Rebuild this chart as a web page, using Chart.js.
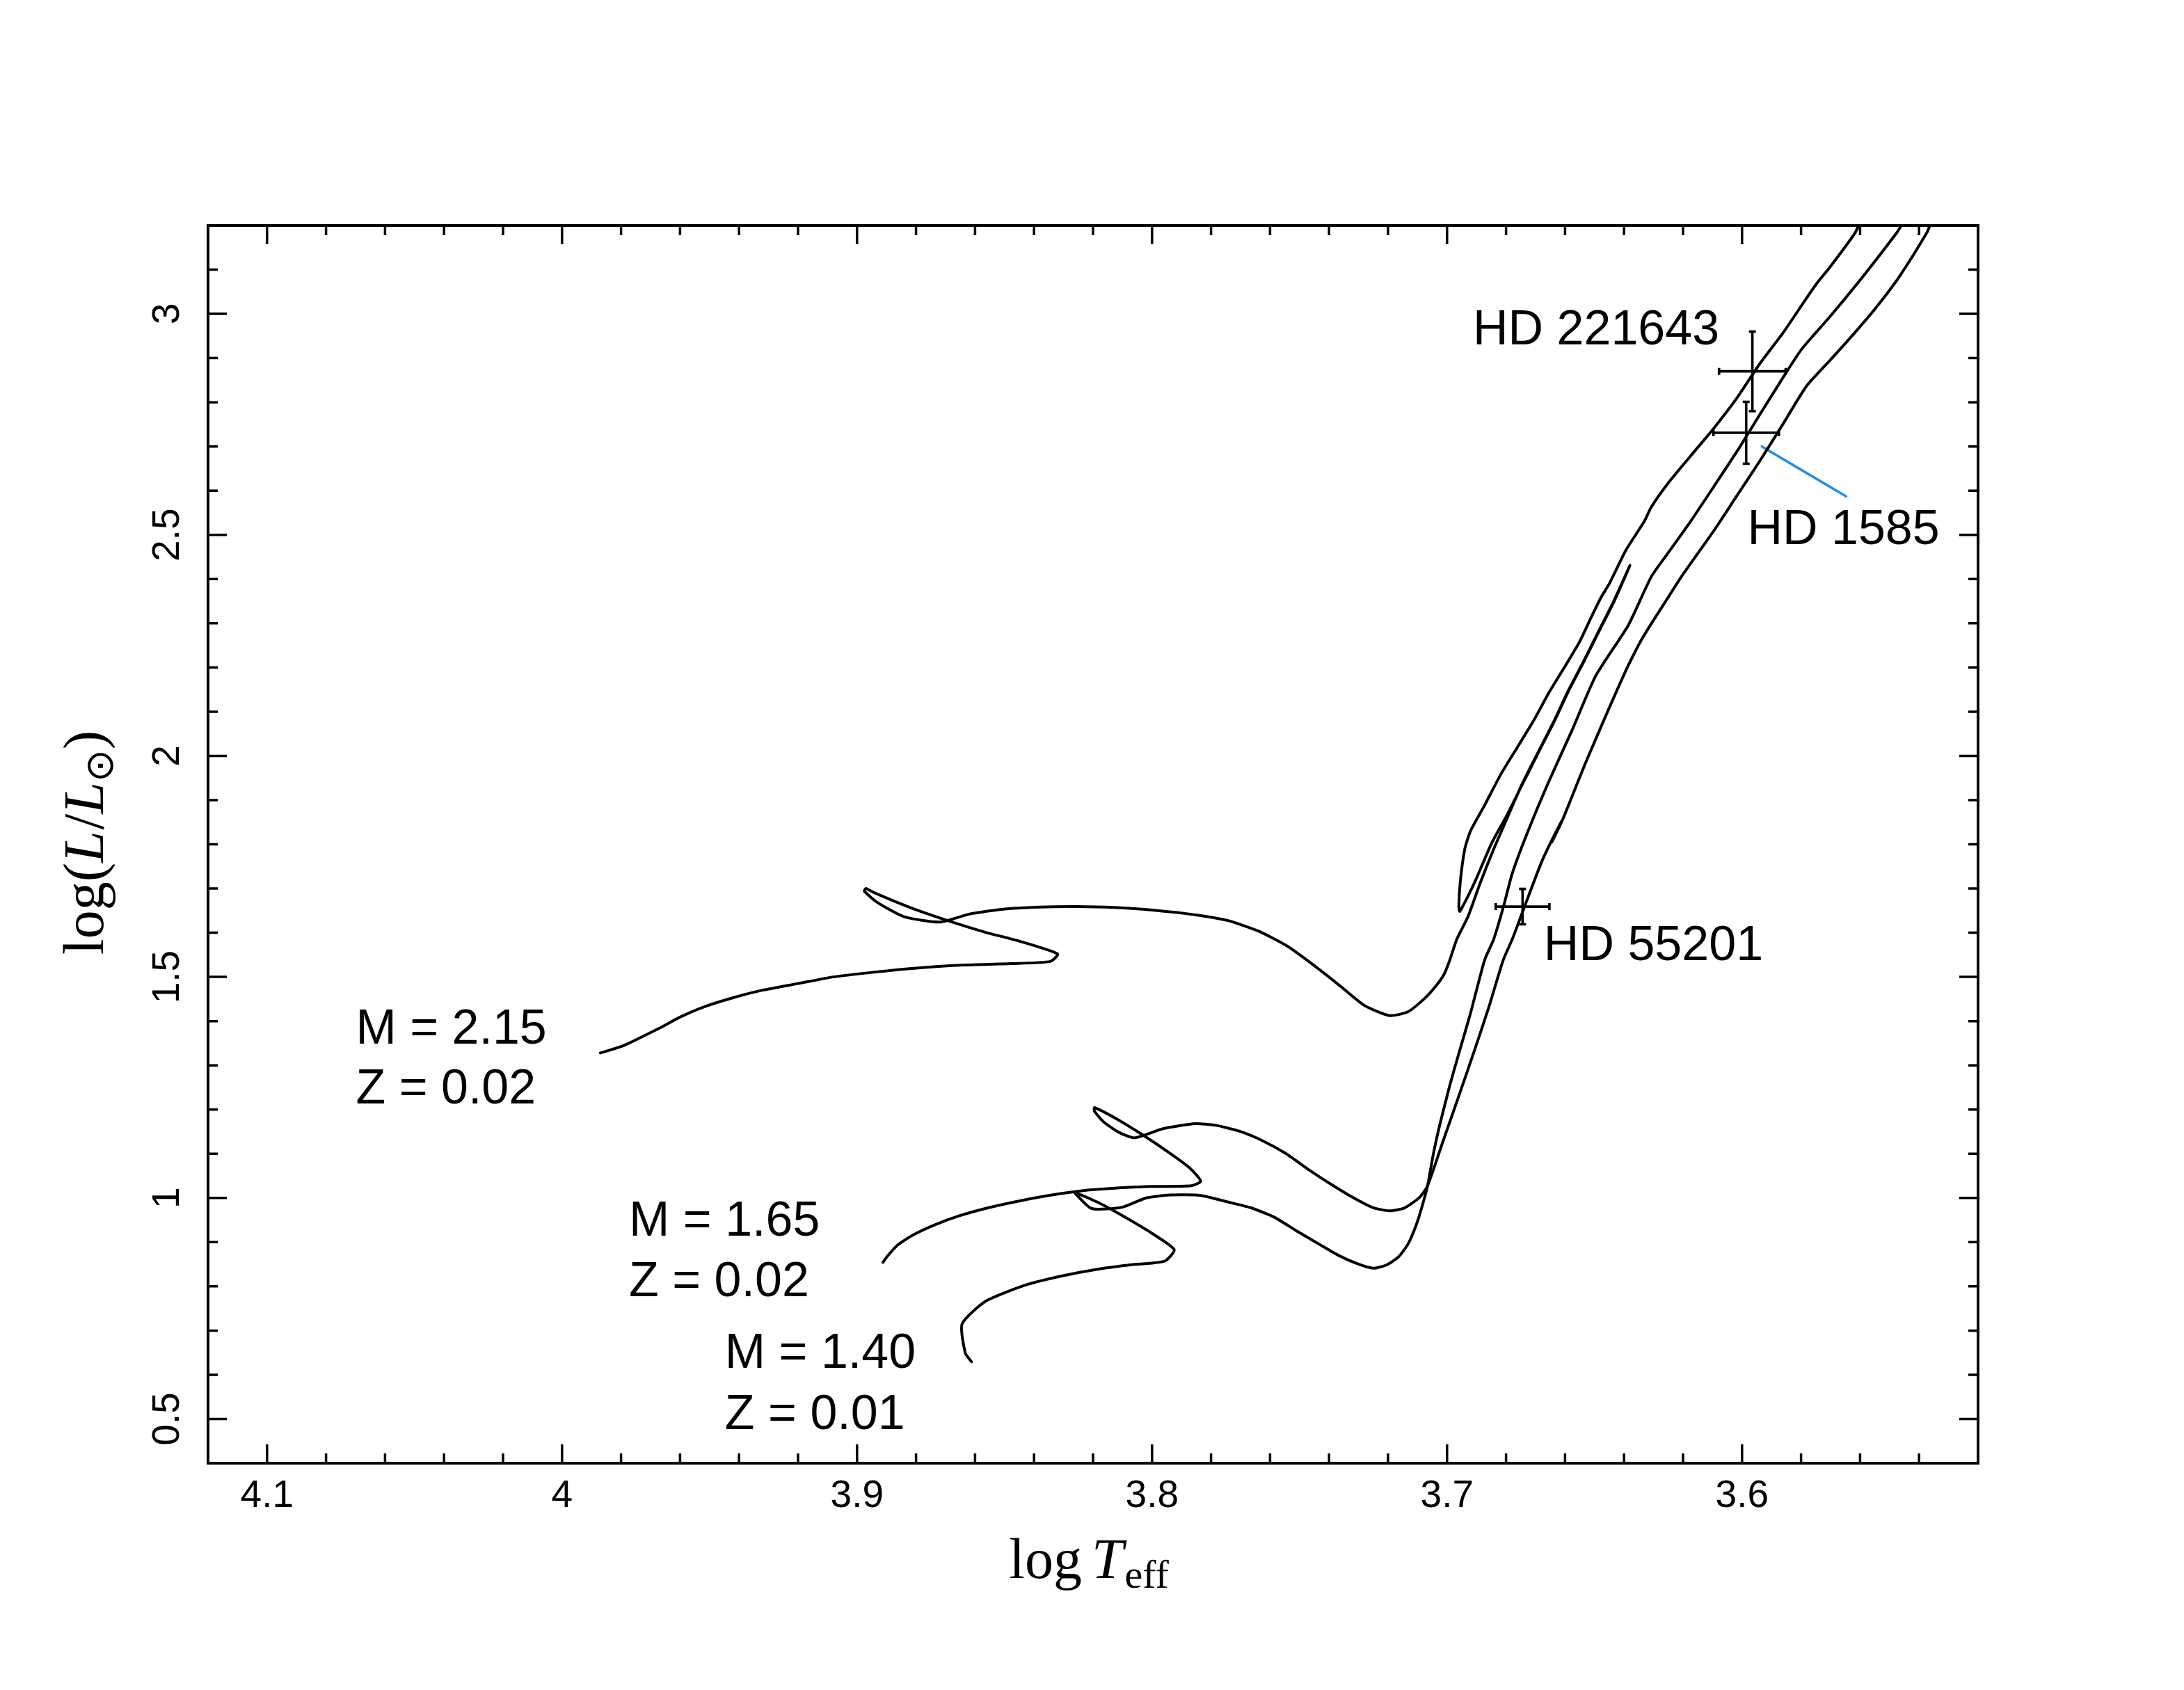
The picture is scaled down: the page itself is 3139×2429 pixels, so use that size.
<!DOCTYPE html>
<html>
<head>
<meta charset="utf-8">
<script src="https://cdn.jsdelivr.net/npm/chart.js@4.4.0/dist/chart.umd.min.js"></script>
<style>
  html, body { margin: 0; padding: 0; background: #fff; }
  #wrap { width: 3139px; height: 2429px; }
</style>
</head>
<body>
<div id="wrap"><canvas id="hr"></canvas></div>
<script>
// evolutionary tracks (log Teff, log L/Lsun)

// M = 2.15, Z = 0.02 : MS, hook, gap, RGB to tip, back down, clump loop, AGB
const m215Teff = [3.987, 3.979, 3.967, 3.960, 3.952, 3.942, 3.932, 3.920, 3.908, 3.894, 3.880, 3.864, 3.848, 3.8345,
  3.832, 3.845, 3.857, 3.870, 3.882, 3.894, 3.897, 3.8975, 3.893, 3.884, 3.872,
  3.862, 3.851, 3.838, 3.8255, 3.813, 3.7994, 3.7847, 3.774, 3.7637, 3.754, 3.7447, 3.7363, 3.7279, 3.7195,
  3.7133, 3.7075, 3.7037, 3.7010, 3.6991, 3.6967, 3.6928, 3.6889, 3.6842, 3.6795, 3.6748, 3.6693, 3.6638,
  3.6591, 3.6544, 3.6490, 3.6435, 3.6380,
  3.6432, 3.6487, 3.6541, 3.6588, 3.6635, 3.6690, 3.6745, 3.6797, 3.6850, 3.6897, 3.6925, 3.6945, 3.6957,
  3.6960, 3.6955, 3.6940, 3.6920, 3.6873, 3.6818, 3.6763, 3.6708, 3.6653, 3.6598, 3.6550, 3.6511, 3.6480,
  3.6448, 3.6394, 3.6331, 3.6308, 3.6253, 3.6175, 3.6096, 3.6018, 3.5939, 3.5861, 3.5782, 3.5743, 3.5704,
  3.5617, 3.5595];
const m215Lum = [1.328, 1.345, 1.384, 1.409, 1.432, 1.453, 1.470, 1.485, 1.500, 1.511, 1.520, 1.527, 1.530, 1.535,
  1.552, 1.581, 1.602, 1.629, 1.657, 1.690, 1.700, 1.694, 1.668, 1.636, 1.624,
  1.642, 1.653, 1.658, 1.659, 1.657, 1.651, 1.640, 1.627, 1.603, 1.569, 1.524, 1.480, 1.435, 1.4125,
  1.421, 1.452, 1.480, 1.506, 1.5375, 1.585, 1.638, 1.710, 1.789, 1.861, 1.933, 2.006, 2.078,
  2.145, 2.205, 2.277, 2.350, 2.431,
  2.352, 2.279, 2.207, 2.147, 2.080, 2.008, 1.935, 1.866, 1.801, 1.728, 1.688, 1.662, 1.648,
  1.660, 1.716, 1.789, 1.831, 1.888, 1.958, 2.018, 2.078, 2.145, 2.205, 2.259, 2.314, 2.356,
  2.392, 2.465, 2.531, 2.5625, 2.615, 2.678, 2.741, 2.809, 2.888, 2.957, 3.035, 3.072, 3.104,
  3.183, 3.215];

// M = 1.65, Z = 0.02
const m165Teff = [3.8912, 3.8898, 3.8862, 3.8808, 3.8736, 3.8655, 3.8556, 3.8448, 3.8340, 3.8223, 3.8088, 3.7998, 3.7867,
  3.7835, 3.7871, 3.7934, 3.8033, 3.8123, 3.8195, 3.8195, 3.8164, 3.8114, 3.8060,
  3.7961, 3.7853, 3.7784, 3.7705, 3.7627, 3.7548, 3.7470, 3.7391, 3.7313, 3.7250, 3.7195, 3.7145,
  3.7093, 3.7066, 3.7014, 3.6959, 3.6905, 3.6858, 3.6810, 3.6779, 3.6739, 3.6677, 3.6612, 3.6645, 3.6608,
  3.6528, 3.6394, 3.6339, 3.6253, 3.6206, 3.6095, 3.6017, 3.5939, 3.5860, 3.5782, 3.5703, 3.5625, 3.5546,
  3.5468, 3.5374, 3.5360];
const m165Lum = [0.8543, 0.8674, 0.8937, 0.917, 0.9394, 0.9593, 0.9777, 0.9935, 1.0066, 1.0172, 1.0235, 1.026, 1.0276,
  1.038, 1.067, 1.0986, 1.1432, 1.180, 1.2043, 1.196, 1.172, 1.149, 1.136,
  1.157, 1.168, 1.1643, 1.1512, 1.130, 1.1012, 1.0645, 1.030, 0.9988, 0.9778, 0.971, 0.977,
  1.0014, 1.0277, 1.1275, 1.2328, 1.3377, 1.4324, 1.5375, 1.585, 1.656, 1.764, 1.852, 1.805, 1.856,
  1.988, 2.193, 2.265, 2.356, 2.405, 2.510, 2.589, 2.668, 2.752, 2.836, 2.894, 2.952, 3.014,
  3.083, 3.183, 3.205];

// M = 1.40, Z = 0.01
const m140Teff = [3.8612, 3.8633, 3.8644, 3.8565, 3.8430, 3.8304, 3.8178, 3.8070, 3.7957,
  3.7925, 3.7998, 3.8088, 3.8178, 3.8263, 3.8259, 3.8205, 3.8101, 3.8020, 3.7939, 3.7835,
  3.7744, 3.7666, 3.7587, 3.7509, 3.7430, 3.7368, 3.7305, 3.7250, 3.7203, 3.7164, 3.7132, 3.7105, 3.7085,
  3.7066, 3.7046, 3.7023, 3.6991, 3.6960, 3.6921, 3.6873, 3.6842, 3.6810, 3.6779, 3.6732, 3.6661, 3.6575,
  3.6496, 3.6386, 3.6308, 3.6253, 3.6174, 3.6095, 3.6017, 3.5939, 3.5860, 3.5798, 3.5703, 3.5586, 3.5476, 3.5455];
const m140Lum = [0.6294, 0.649, 0.7149, 0.766, 0.8027, 0.8237, 0.8396, 0.849, 0.857,
  0.8832, 0.919, 0.9552, 0.9883, 1.013, 1.009, 0.976, 0.979, 1.0, 1.0066, 1.0056,
  0.991, 0.978, 0.957, 0.925, 0.894, 0.870, 0.8516, 0.841, 0.849, 0.867, 0.896, 0.938, 0.980,
  1.0277, 1.101, 1.170, 1.2537, 1.327, 1.4166, 1.5375, 1.585, 1.656, 1.734, 1.819, 1.933, 2.060,
  2.181, 2.295, 2.405, 2.457, 2.531, 2.610, 2.689, 2.773, 2.857, 2.920, 2.993, 3.088, 3.183, 3.205];

// observed stars with error bars
const starNames = ['HD 221643', 'HD 1585', 'HD 55201'];
const starTeff = [3.5965, 3.5986, 3.6744];
const starTeffErr = [0.0113, 0.0111, 0.0091];
const starLum = [2.870, 2.731, 1.659];
const starLumErr = [0.090, 0.070, 0.040];

// blue pointer to HD 1585
const leaderTeff = [3.5933, 3.5647];
const leaderLum = [2.700, 2.587];

// text labels, anchored in data space
const noteText = ['HD 221643', 'HD 1585', 'HD 55201', 'M = 2.15', 'Z = 0.02', 'M = 1.65', 'Z = 0.02', 'M = 1.40', 'Z = 0.01'];
const noteTeff = [3.6077, 3.5982, 3.6672, 4.0699, 4.0699, 3.9773, 3.9773, 3.9448, 3.9448];
const noteLum = [2.9314, 2.4789, 1.5375, 1.3483, 1.2143, 0.9148, 0.7776, 0.6151, 0.4779];
const noteAlign = ['right', 'left', 'left', 'left', 'left', 'left', 'left', 'left', 'left'];

// tick labels
const xTickValues = [4.1, 4.0, 3.9, 3.8, 3.7, 3.6];
const xTickLabels = ['4.1', '4', '3.9', '3.8', '3.7', '3.6'];
const yTickValues = [0.5, 1.0, 1.5, 2.0, 2.5, 3.0];
const yTickLabels = ['0.5', '1', '1.5', '2', '2.5', '3'];

function zip(xs, ys) {
  return xs.map((x, i) => ({ x: x, y: ys[i] }));
}

function track(xs, ys, color, width) {
  return {
    data: zip(xs, ys),
    showLine: true,
    borderColor: color || '#000',
    borderWidth: width || 4,
    pointRadius: 0,
    tension: 0.2,
    borderJoinStyle: 'round',
    borderCapStyle: 'round'
  };
}

function labelFor(v, vals, labels) {
  for (let i = 0; i < vals.length; i++) {
    if (Math.abs(v - vals[i]) < 1e-6) return labels[i];
  }
  return '';
}

const tickFont = { family: '"Liberation Sans", Arial, sans-serif', size: 55 };
const serif = '"Liberation Serif", "DejaVu Serif", serif';

// draw a run of text pieces (mixed fonts) starting at x=0 on the current baseline
function pieces(ctx, parts, centered) {
  let w = 0;
  parts.forEach(p => { ctx.font = p.font; w += ctx.measureText(p.t).width + (p.gap || 0); });
  let x = centered ? -w / 2 : 0;
  parts.forEach(p => {
    ctx.font = p.font;
    ctx.fillText(p.t, x, p.dy || 0);
    x += ctx.measureText(p.t).width + (p.gap || 0);
  });
}

const frame = {
  id: 'frame',
  afterDraw(chart) {
    const ctx = chart.ctx;
    const a = chart.chartArea;
    const xs = chart.scales.x;
    const ys = chart.scales.y;
    ctx.save();

    // box
    ctx.strokeStyle = '#000';
    ctx.lineWidth = 4;
    ctx.strokeRect(a.left, a.top, a.right - a.left, a.bottom - a.top);

    // inward ticks on all four sides
    ctx.lineWidth = 3.5;
    ctx.beginPath();
    xs.ticks.forEach(t => {
      const p = xs.getPixelForValue(t.value);
      if (p < a.left + 3 || p > a.right - 3) return;
      const len = t.label ? 27 : 14;
      ctx.moveTo(p, a.bottom); ctx.lineTo(p, a.bottom - len);
      ctx.moveTo(p, a.top); ctx.lineTo(p, a.top + len);
    });
    ys.ticks.forEach(t => {
      const p = ys.getPixelForValue(t.value);
      if (p < a.top + 3 || p > a.bottom - 3) return;
      const len = t.label ? 27 : 14;
      ctx.moveTo(a.left, p); ctx.lineTo(a.left + len, p);
      ctx.moveTo(a.right, p); ctx.lineTo(a.right - len, p);
    });
    ctx.stroke();

    // error bars
    ctx.lineWidth = 3.6;
    ctx.beginPath();
    for (let i = 0; i < starNames.length; i++) {
      const cx = xs.getPixelForValue(starTeff[i]);
      const cy = ys.getPixelForValue(starLum[i]);
      const x0 = xs.getPixelForValue(starTeff[i] + starTeffErr[i]);
      const x1 = xs.getPixelForValue(starTeff[i] - starTeffErr[i]);
      const y0 = ys.getPixelForValue(starLum[i] + starLumErr[i]);
      const y1 = ys.getPixelForValue(starLum[i] - starLumErr[i]);
      ctx.moveTo(x0, cy); ctx.lineTo(x1, cy);
      ctx.moveTo(cx, y0); ctx.lineTo(cx, y1);
      ctx.moveTo(x0, cy - 5); ctx.lineTo(x0, cy + 5);
      ctx.moveTo(x1, cy - 5); ctx.lineTo(x1, cy + 5);
      ctx.moveTo(cx - 5, y0); ctx.lineTo(cx + 5, y0);
      ctx.moveTo(cx - 5, y1); ctx.lineTo(cx + 5, y1);
    }
    ctx.stroke();

    // labels
    ctx.fillStyle = '#000';
    ctx.textBaseline = 'alphabetic';
    ctx.font = '70px "Liberation Sans", Arial, sans-serif';
    noteText.forEach((txt, i) => {
      ctx.textAlign = noteAlign[i];
      ctx.fillText(txt, xs.getPixelForValue(noteTeff[i]), ys.getPixelForValue(noteLum[i]));
    });

    // axis titles
    ctx.textAlign = 'left';
    const roman = '82px ' + serif;
    const ital = 'italic 82px ' + serif;
    const small = '58px ' + serif;
    ctx.save();
    ctx.translate((a.left + a.right) / 2 - 6, 2268);
    pieces(ctx, [
      { t: 'log', font: roman, gap: 14 },
      { t: 'T', font: ital, gap: 2 },
      { t: 'eff', font: small, dy: 14 }
    ], true);
    ctx.restore();

    ctx.save();
    ctx.translate(148, 1211);
    ctx.rotate(-Math.PI / 2);
    pieces(ctx, [
      { t: 'log', font: roman },
      { t: '(', font: roman },
      { t: 'L', font: ital, gap: 2 },
      { t: '/', font: roman },
      { t: 'L', font: ital },
      { t: '\u2299', font: '56px "DejaVu Sans", sans-serif', dy: 14 },
      { t: ')', font: roman }
    ], true);
    ctx.restore();

    ctx.restore();
  }
};

new Chart(document.getElementById('hr'), {
  type: 'scatter',
  data: {
    datasets: [
      track(m215Teff, m215Lum),
      track(m165Teff, m165Lum),
      track(m140Teff, m140Lum),
      track(leaderTeff, leaderLum, '#2a8ddd', 3.6)
    ]
  },
  options: {
    responsive: true,
    maintainAspectRatio: false,
    animation: false,
    devicePixelRatio: 1,
    layout: { padding: { left: 0, top: 324, right: 296, bottom: 0 } },
    plugins: { legend: { display: false }, tooltip: { enabled: false }, title: { display: false } },
    scales: {
      x: {
        type: 'linear',
        reverse: true,
        min: 3.52,
        max: 4.12,
        afterFit: s => { s.height = 326; },
        grid: { display: false, drawTicks: false },
        border: { display: false },
        ticks: {
          stepSize: 0.02,
          autoSkip: false,
          minRotation: 0,
          maxRotation: 0,
          padding: 15,
          color: '#000',
          font: tickFont,
          callback: v => labelFor(v, xTickValues, xTickLabels)
        }
      },
      y: {
        type: 'linear',
        min: 0.4,
        max: 3.2,
        afterFit: s => { s.width = 299; },
        grid: { display: false, drawTicks: false },
        border: { display: false },
        ticks: {
          stepSize: 0.1,
          autoSkip: false,
          minRotation: 90,
          maxRotation: 90,
          crossAlign: 'center',
          padding: 19,
          color: '#000',
          font: tickFont,
          callback: v => labelFor(v, yTickValues, yTickLabels)
        }
      }
    }
  },
  plugins: [frame]
});
</script>
</body>
</html>
